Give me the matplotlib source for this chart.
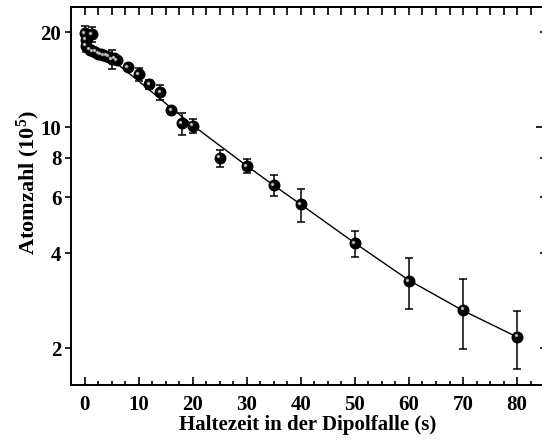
import matplotlib
matplotlib.use("Agg")
import matplotlib.pyplot as plt
import matplotlib.transforms as mtrans
from matplotlib.ticker import FixedLocator, NullLocator, NullFormatter, FixedFormatter

plt.rcParams["font.family"] = "Liberation Serif"
plt.rcParams["font.weight"] = "bold"
plt.rcParams["mathtext.fontset"] = "custom"
plt.rcParams["mathtext.rm"] = "Liberation Serif:bold"
plt.rcParams["mathtext.bf"] = "Liberation Serif:bold"
plt.rcParams["mathtext.it"] = "Liberation Serif:bold"

# Messpunkte: Haltezeit (s), Atomzahl (1e5), Fehler (1e5)
t_pts = [0, 0.25, 0.25, 1.3, 1.0, 1.5, 2.0, 2.5, 3.0, 3.5, 4.0, 4.5, 5.0, 5.5, 6.0,
         8, 10, 12, 14, 16, 18, 20, 25, 30, 35, 40, 50, 60, 70, 80]
n_pts = [19.8, 18.9, 18.1, 19.7, 17.6, 17.4, 17.3, 17.1, 17.0, 16.9, 16.8, 16.7, 16.4, 16.5, 16.3,
         15.5, 14.7, 13.7, 12.9, 11.3, 10.3, 10.1, 8.0, 7.53, 6.56, 5.71, 4.29, 3.26, 2.65, 2.17]
n_err = [1.1, 0.8, 0.8, 1.1, 0.3, 0.3, 0.3, 0.3, 0.3, 0.3, 0.3, 0.3, 1.1, 0.3, 0.3,
         0.4, 0.65, 0.45, 0.72, 0.2, 0.83, 0.5, 0.5, 0.38, 0.5, 0.68, 0.41, 0.6, 0.66, 0.45]

# Fitkurve
t_fit = [0, 5, 10, 15, 20, 25, 30, 35, 40, 50, 60, 70, 80]
n_fit = [19.0, 16.4, 14.0, 11.9, 10.15, 8.75, 7.55, 6.55, 5.7, 4.3, 3.28, 2.63, 2.17]

y_ticks = [2, 4, 6, 8, 10, 20]
x_ticks = [0, 10, 20, 30, 40, 50, 60, 70, 80]

fig = plt.figure(figsize=(5.42, 4.41), dpi=100)
ax = fig.add_axes([0.131, 0.127, 1.004 - 0.131, 0.984 - 0.127])
ax.set_yscale("log")

ax.plot(t_fit, n_fit, color="black", lw=1.0, zorder=2)
ax.errorbar(t_pts, n_pts, yerr=n_err, fmt="none", ecolor="black", elinewidth=1.1,
            capsize=3.0, capthick=1.1, zorder=3)
ax.plot(t_pts, n_pts, "o", ms=7.6, color="black", mec="black", zorder=4)
hl = mtrans.offset_copy(ax.transData, fig=fig, x=-1.1, y=1.1, units="points")
ax.plot(t_pts, n_pts, "o", ms=2.6, color="#8c8c8c", mec="none", transform=hl, zorder=5)
ax.plot(t_pts, n_pts, "o", ms=1.2, color="#dcdcdc", mec="none", transform=hl, zorder=6)

ax.set_xlim(-2.5, 85)
ax.set_ylim(1.53, 24)

ax.yaxis.set_major_locator(FixedLocator(y_ticks))
ax.yaxis.set_major_formatter(FixedFormatter([str(v) for v in y_ticks]))
ax.yaxis.set_minor_locator(NullLocator())
ax.yaxis.set_minor_formatter(NullFormatter())
ax.tick_params(axis="y", which="major", direction="out", length=4, width=1.2,
               labelsize=15, pad=3, right=False)

ax.xaxis.set_major_locator(FixedLocator(x_ticks))
ax.xaxis.set_minor_locator(FixedLocator([v + d for v in x_ticks for d in (2.5, 5, 7.5)]))
ax.tick_params(axis="x", which="major", direction="in", length=6, width=1.2,
               labelsize=15, pad=7, top=False)
ax.tick_params(axis="x", which="minor", direction="in", length=3, width=1.2, top=False)

top = ax.secondary_xaxis("top")
top.xaxis.set_major_locator(FixedLocator([v + d for v in x_ticks for d in (0, 2.5, 5, 7.5)]))
top.xaxis.set_minor_locator(NullLocator())
top.tick_params(axis="x", direction="in", length=6, width=1.2, labeltop=False)

right = ax.secondary_yaxis("right")
right.yaxis.set_major_locator(FixedLocator([10]))
right.yaxis.set_minor_locator(FixedLocator([2, 4, 6, 8, 20]))
right.tick_params(axis="y", which="major", direction="in", length=6, width=1.2, labelright=False)
right.tick_params(axis="y", which="minor", direction="in", length=3, width=1.2, labelright=False)
right.yaxis.set_minor_formatter(NullFormatter())

for s in ax.spines.values():
    s.set_linewidth(1.4)
for s in top.spines.values():
    s.set_linewidth(1.4)
for s in right.spines.values():
    s.set_linewidth(1.4)

ax.set_xlabel("Haltezeit in der Dipolfalle (s)", fontsize=15, fontweight="bold", labelpad=0)
ax.set_ylabel("Atomzahl (10$^{5}$)", fontsize=16, fontweight="bold")
ax.yaxis.set_label_coords(-0.062, 0.535)

fig.savefig("out.png", dpi=100)
